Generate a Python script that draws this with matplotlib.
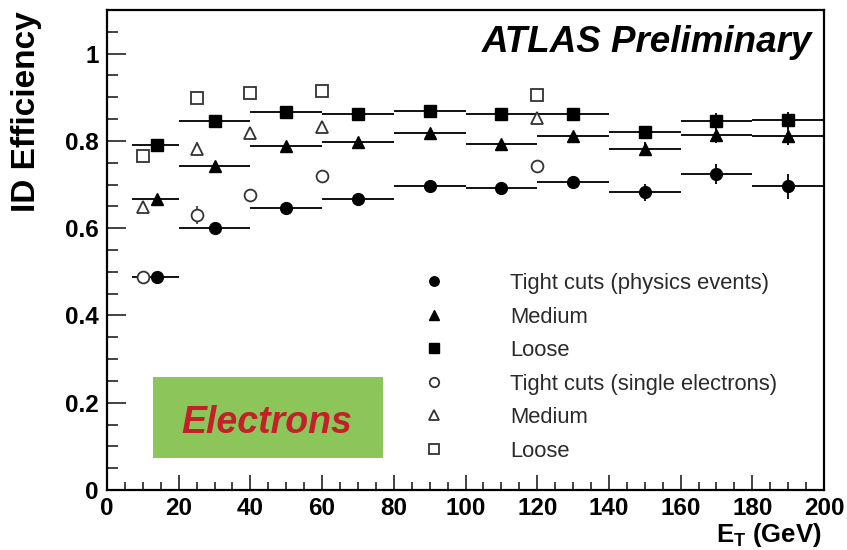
import matplotlib
matplotlib.use('Agg')
import matplotlib.pyplot as plt
from matplotlib.patches import Rectangle
from matplotlib.ticker import MultipleLocator
import numpy as np

plt.rcParams['font.family'] = ['Liberation Sans', 'DejaVu Sans']
plt.rcParams['mathtext.fontset'] = 'custom'
plt.rcParams['mathtext.rm'] = 'Liberation Sans'
plt.rcParams['mathtext.bf'] = 'Liberation Sans:bold'

# physics events: binned in E_T
et_center = np.array([14, 30, 50, 70, 90, 110, 130, 150, 170, 190])
et_low = np.array([7, 20, 40, 60, 80, 100, 120, 140, 160, 180])
et_high = np.array([20, 40, 60, 80, 100, 120, 140, 160, 180, 200])

tight_phys = [0.489, 0.600, 0.647, 0.668, 0.696, 0.693, 0.706, 0.682, 0.725, 0.696]
tight_phys_err = [0.004, 0.004, 0.004, 0.004, 0.005, 0.005, 0.006, 0.020, 0.023, 0.028]
medium_phys = [0.666, 0.742, 0.788, 0.798, 0.819, 0.792, 0.811, 0.782, 0.813, 0.811]
medium_phys_err = [0.004, 0.004, 0.004, 0.004, 0.004, 0.004, 0.005, 0.016, 0.018, 0.020]
loose_phys = [0.790, 0.845, 0.866, 0.862, 0.868, 0.861, 0.862, 0.820, 0.845, 0.847]
loose_phys_err = [0.004, 0.004, 0.004, 0.004, 0.004, 0.004, 0.005, 0.012, 0.018, 0.020]

# single electrons: fixed E_T points
et_single = [10, 25, 40, 60, 120]
tight_single = [0.489, 0.630, 0.676, 0.720, 0.742]
tight_single_err = [0.0, 0.020, 0.0, 0.0, 0.0]
medium_single = [0.649, 0.782, 0.817, 0.833, 0.853]
medium_single_err = [0.0, 0.016, 0.0, 0.0, 0.0]
loose_single = [0.765, 0.899, 0.909, 0.914, 0.906]
loose_single_err = [0.0, 0.0, 0.0, 0.0, 0.0]

legend_labels = ["Tight cuts (physics events)", "Medium", "Loose",
                 "Tight cuts (single electrons)", "Medium", "Loose"]

fig = plt.figure(figsize=(8.47, 5.5), dpi=100)
ax = fig.add_axes([107 / 847, 60 / 550, 717 / 847, 480 / 550])

xerr = [et_center - et_low, et_high - et_center]
handles = []
for vals, errs, mk, ms in [(tight_phys, tight_phys_err, 'o', 8.5),
                           (medium_phys, medium_phys_err, '^', 9),
                           (loose_phys, loose_phys_err, 's', 8.5)]:
  ax.errorbar(et_center, vals, xerr=xerr, yerr=errs, fmt='none',
              ecolor='#111111', elinewidth=1.4, capsize=0, zorder=2)
  h, = ax.plot(et_center, vals, ls='none', marker=mk, ms=ms,
               mfc='black', mec='black', zorder=3)
  handles.append(h)

for vals, errs, mk, ms in [(tight_single, tight_single_err, 'o', 8.5),
                           (medium_single, medium_single_err, '^', 9),
                           (loose_single, loose_single_err, 's', 8.5)]:
  ax.errorbar(et_single, vals, yerr=errs, fmt='none',
              ecolor='#333333', elinewidth=1.2, capsize=0, zorder=2)
  h, = ax.plot(et_single, vals, ls='none', marker=mk, ms=ms,
               mfc='white', mec='#333333', mew=1.3, zorder=3)
  handles.append(h)

ax.set_xlim(0, 200)
ax.set_ylim(0, 1.1)
ax.xaxis.set_major_locator(MultipleLocator(20))
ax.xaxis.set_minor_locator(MultipleLocator(5))
ax.yaxis.set_major_locator(MultipleLocator(0.2))
ax.yaxis.set_minor_locator(MultipleLocator(0.05))
ax.yaxis.set_major_formatter(matplotlib.ticker.FuncFormatter(
    lambda v, p: "0" if abs(v) < 1e-9 else ("1" if abs(v - 1) < 1e-9 else f"{v:.1f}")))

ax.tick_params(axis='both', which='both', direction='in', top=False, right=False,
               width=1.2, color='#222222')
ax.tick_params(axis='y', which='major', length=14, labelsize=17.5, pad=6)
ax.tick_params(axis='y', which='minor', length=8)
ax.tick_params(axis='x', which='major', length=11, labelsize=17.5, pad=5)
ax.tick_params(axis='x', which='minor', length=6)
for lab in ax.get_xticklabels() + ax.get_yticklabels():
  lab.set_fontweight('bold')
for sp in ax.spines.values():
  sp.set_linewidth(1.6)

ax.text(0.983, 0.9125, "ATLAS Preliminary", transform=ax.transAxes,
        ha='right', va='baseline', fontsize=26.5, fontweight='bold', style='italic')

ax.add_patch(Rectangle((12.8, 0.073), 64.2, 0.187, facecolor='#8cc65a',
                       edgecolor='none', zorder=1))
ax.text(44.5, 0.154, "Electrons", ha='center', va='center', fontsize=27,
        fontweight='bold', style='italic', color='#c4202a', zorder=2)

ax.legend(handles, legend_labels, loc='upper left', bbox_to_anchor=(0.441, 0.452),
          frameon=False, fontsize=15.8, markerscale=0.8, handlelength=1.0,
          handletextpad=2.95, labelspacing=0.57, borderpad=0, borderaxespad=0,
          labelcolor='#2a2a2a')

fig.text(27 / 847, 1 - 112 / 550, "ID Efficiency", rotation=90, ha='center',
         va='center', fontsize=24, fontweight='bold')
fig.text(822 / 847, 1 - 542 / 550, r"$\mathbf{E}_{\mathbf{T}}$ (GeV)", ha='right',
         va='baseline', fontsize=18.5, fontweight='bold')

fig.savefig("out.png", dpi=100)
